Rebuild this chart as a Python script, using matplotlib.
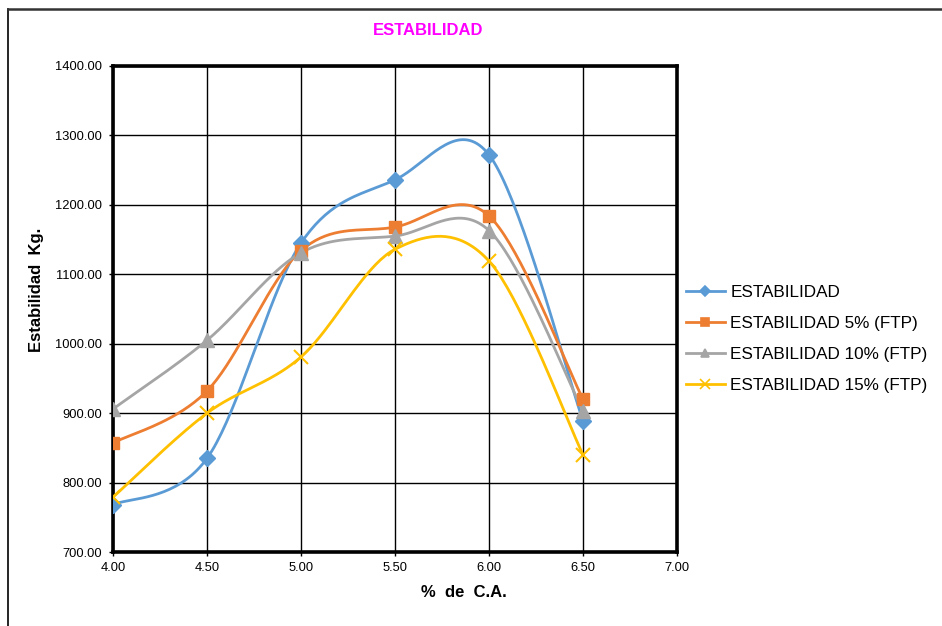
import numpy as np
import matplotlib.pyplot as plt
from matplotlib.lines import Line2D

plt.rcParams['font.family'] = ['Liberation Sans', 'DejaVu Sans']

ca = [4.0, 4.5, 5.0, 5.5, 6.0, 6.5]
estabilidad = [768, 835, 1145, 1236, 1272, 889]
estabilidad_5 = [857, 932, 1134, 1168, 1184, 920]
estabilidad_10 = [906, 1005, 1131, 1155, 1163, 903]
estabilidad_15 = [779, 900, 981, 1136, 1119, 840]

series = [
    ("ESTABILIDAD", estabilidad, "#5B9BD5", "D", 8.5),
    ("ESTABILIDAD 5% (FTP)", estabilidad_5, "#ED7D31", "s", 8.5),
    ("ESTABILIDAD 10% (FTP)", estabilidad_10, "#A5A5A5", "^", 9.5),
    ("ESTABILIDAD 15% (FTP)", estabilidad_15, "#FFC000", "x", 10),
]


# bezier smoothing like a spreadsheet "smoothed line", done in pixel-ish units
def smooth(xs, ys, sx=188.0, sy=0.6943, n=40):
    p = np.column_stack([np.array(xs) * sx, np.array(ys) * sy])
    out = []
    for i in range(len(p) - 1):
        p0 = p[i - 1] if i > 0 else p[i]
        p3 = p[i + 2] if i + 2 < len(p) else p[i + 1]
        c1 = p[i] + (p[i + 1] - p0) / 6
        c2 = p[i + 1] - (p3 - p[i]) / 6
        t = np.linspace(0, 1, n)[:, None]
        seg = (1 - t) ** 3 * p[i] + 3 * (1 - t) ** 2 * t * c1 + 3 * (1 - t) * t ** 2 * c2 + t ** 3 * p[i + 1]
        out.append(seg if i == 0 else seg[1:])
    out = np.vstack(out)
    return out[:, 0] / sx, out[:, 1] / sy


fig = plt.figure(figsize=(9.42, 6.26), dpi=100)
ax = fig.add_axes([0.12, 0.1182, 0.5987, 0.7764])

for name, vals, color, mk, ms in series:
    sxv, syv = smooth(ca, vals)
    ax.plot(sxv, syv, color=color, lw=2, zorder=3)
    ax.plot(ca, vals, linestyle='None', marker=mk, color=color, ms=ms,
            mew=1.5 if mk == 'x' else 1, zorder=4)

ax.set_xlim(4.0, 7.0)
ax.set_ylim(700, 1400)
ax.set_xticks(np.arange(4.0, 7.01, 0.5))
ax.set_yticks(np.arange(700, 1401, 100))
ax.xaxis.set_major_formatter(lambda v, p: f"{v:.2f}")
ax.yaxis.set_major_formatter(lambda v, p: f"{v:.2f}")
ax.grid(True, color='black', lw=1)
ax.set_axisbelow(True)
for s in ax.spines.values():
    s.set_linewidth(2.6)
ax.tick_params(axis='both', labelsize=9.3, color='black', length=3, width=1)
ax.tick_params(axis='y', pad=5)
ax.tick_params(axis='x', pad=4)

fig.text(37 / 942, 0.537, "Estabilidad  Kg.", fontsize=12, fontweight='bold', rotation=90,
         ha='center', va='center')
fig.text(0.492, 0.054, "%  de  C.A.", fontsize=12, fontweight='bold', ha='center', va='center')
fig.text(0.454, 0.951, "ESTABILIDAD", color='#FF00FF', fontsize=12, fontweight='bold',
         ha='center', va='center')

handles = [Line2D([0], [0], color=c, lw=2, marker=m, ms=s * 0.65, mew=1.2) for _, _, c, m, s in series]
fig.legend(handles, [n for n, *_ in series], loc='center left', bbox_to_anchor=(0.728, 0.4585),
           frameon=False, fontsize=12.3, handlelength=2.3, handletextpad=0.3, labelspacing=0.95,
           borderpad=0, borderaxespad=0)

# outer chart frame
fig.add_artist(Line2D([8 / 942, 8 / 942], [0, 1 - 9 / 626], color='black', lw=1.2, transform=fig.transFigure))
fig.add_artist(Line2D([8 / 942, 1], [1 - 9 / 626, 1 - 9 / 626], color='#333333', lw=1.8, transform=fig.transFigure))

fig.savefig("out.png", dpi=100)
